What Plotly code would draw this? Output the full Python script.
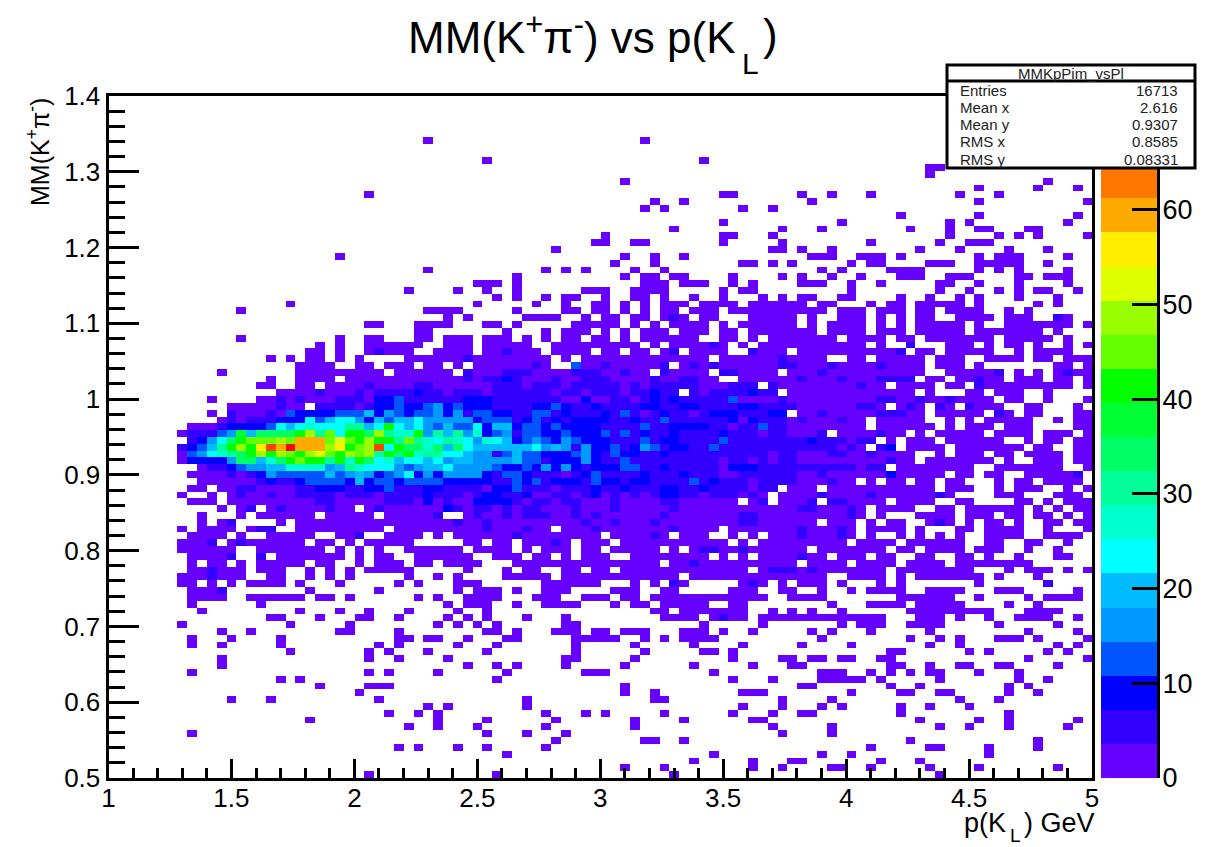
import plotly.graph_objects as go

# Histogram binning
x_min, x_max, n_x = 1.0, 5.0, 100
y_min, y_max, n_y = 0.5, 1.4, 100

# Colour bands of the palette (one per 3.6 counts) and a representative count for each
band_colors = ["#6600ff", "#3300ff", "#0000ff", "#0055ff", "#0099ff", "#00bbff", "#00ffff", "#00ffcc", "#00ff99", "#00ff66",
               "#00ff33", "#00ff00", "#66ff00", "#99ff00", "#ddff00", "#ffee00", "#ffaa00", "#ff7700", "#ff4400", "#ff0000"]
band_symbols = "123456789ABCDEFGHIJK"
band_counts = [1.8, 5.4, 9, 12.6, 16.2, 19.8, 23.4, 27, 30.6, 34.2, 37.8, 41.4, 45, 48.6, 52.2, 55.8, 59.4, 63, 66.6, 70.2]
z_max = 72

# Sparse top of the histogram: row -> occupied columns
upper_cells = {
    93: [32, 54], 90: [38, 60], 89: [83, 84], 88: [83], 87: [52, 95], 86: [88, 94, 98],
    85: [26, 62, 63, 70, 73, 77, 86, 90], 84: [55, 58, 71, 88, 99], 83: [54, 56, 64, 67], 82: [80, 88, 98],
    81: [62, 74, 85, 87, 97], 80: [57, 68, 72, 81, 85, 88, 89, 93, 94], 79: [50, 62, 63, 67, 85, 90, 92, 94, 99],
    78: [49, 50, 53, 54, 62, 68, 77, 84, 87, 88, 89], 77: [45, 67, 68, 70, 73, 82, 86, 91, 95],
    76: [23, 52, 55, 58, 71, 72, 73, 76, 77, 78, 80, 88, 90, 91, 92, 97],
    75: [51, 55, 64, 65, 67, 69, 75, 77, 78, 83, 84, 85, 88, 89, 90, 91, 92, 95],
    74: [32, 44, 46, 48, 53, 56, 72, 74, 79, 80, 81, 82, 88, 90, 92, 97],
    73: [41, 52, 54, 55, 57, 58, 63, 68, 70, 73, 76, 80, 81, 82, 85, 86, 87, 92, 93, 95, 96, 97],
    72: [37, 38, 39, 41, 54, 55, 56, 58, 59, 60, 63, 65, 70, 71, 72, 75, 78, 84, 85, 88, 92, 97],
    71: [30, 35, 38, 41, 48, 49, 50, 53, 54, 55, 56, 62, 64, 65, 75, 84, 87, 90, 92, 94, 95, 98],
    70: [39, 41, 44, 46, 47, 50, 53, 54, 56, 59, 62, 66, 68, 70, 71, 74, 75, 80, 83, 86, 88, 92, 96],
    69: [18, 37, 43, 46, 49], 68: [13, 32, 33, 34, 35, 41, 46, 47, 49], 67: [34, 36, 42, 43, 44, 45, 48],
    66: [26, 27, 31, 32, 33, 34, 38, 39, 41, 47, 48, 49], 65: [31, 32, 40, 44, 46, 47, 48],
    64: [13, 23, 26, 27, 31, 32, 34, 35, 36, 38, 39, 40, 42, 44, 46, 47, 49],
}

# Sparse bottom of the histogram
lower_cells = {
    31: [8, 10, 11, 13, 15, 16, 17, 18, 19, 21, 22, 25, 27, 28, 29, 31, 32, 34, 35, 36, 37, 41, 42, 43, 44, 45, 46, 47, 48, 49,
         50, 51, 52, 53, 54, 55, 57, 58, 59, 60, 61, 62, 63, 64, 65, 66, 67, 68, 69, 71, 72, 73, 74, 76, 77, 78, 79, 81, 82, 83, 84, 86, 87, 88, 89, 90, 91, 92, 93],
    30: [8, 9, 10, 11, 12, 13, 15, 16, 17, 20, 22, 24, 26, 27, 28, 29, 30, 36, 40, 42, 43, 46, 47, 49,
         50, 52, 53, 54, 55, 56, 57, 58, 59, 60, 61, 62, 63, 64, 66, 67, 68, 69, 70, 71, 72, 73, 74, 75, 76, 77, 78, 80, 81, 82, 83, 84, 85, 86, 87, 91, 93, 94, 95, 97, 99],
    29: [7, 8, 9, 10, 11, 12, 13, 16, 17, 20, 22, 24, 30, 33, 35, 40, 41, 42, 43, 44, 46, 47, 48, 49,
         50, 51, 52, 53, 54, 55, 56, 57, 59, 60, 61, 62, 63, 64, 65, 66, 67, 68, 69, 70, 71, 72, 75, 76, 77, 78, 80, 82, 83, 84, 85, 86, 87, 88, 90, 94],
    28: [7, 8, 10, 12, 14, 15, 16, 17, 19, 23, 29, 31, 35, 36, 37, 44, 45, 46, 47, 48, 49, 53, 55, 57, 58, 64, 65, 66, 68, 70, 71, 72, 74, 78, 80, 88, 95],
    27: [8, 9, 10, 11, 20, 27, 35, 37, 38, 39, 41, 44, 45, 46, 51, 52, 53, 56, 57, 63, 64, 65, 68, 69, 72, 75, 77, 78, 79, 80, 83, 84, 85, 86, 90, 91, 92, 98],
    26: [8, 9, 10, 11, 14, 15, 16, 17, 18, 19, 21, 22, 24, 31, 33, 36, 37, 38, 39, 43, 44, 45, 48, 49,
         50, 52, 53, 55, 56, 57, 58, 59, 60, 61, 62, 63, 64, 65, 66, 69, 70, 71, 72, 80, 81, 82, 83, 84, 85, 88, 93, 95, 96, 97, 98],
    25: [8, 15, 34, 36, 37, 38, 41, 44, 45, 46, 47, 51, 53, 54, 56, 57, 58, 59, 60, 63, 64, 73, 77, 78, 79, 80, 82, 83, 84, 85, 86, 91, 94],
    24: [9, 19, 23, 26, 30, 35, 38, 55, 56, 58, 59, 60, 61, 62, 63, 64, 67, 69, 71, 74, 81, 82, 83, 84, 85, 86, 87, 88, 89, 93, 94, 95, 96],
    23: [16, 17, 21, 25, 26, 29, 34, 36, 38, 42, 46, 56, 57, 58, 59, 61, 62, 63, 64, 66, 67, 68, 69, 70, 71, 72, 73, 74, 75, 76, 77, 78, 82, 83, 84, 86, 89, 92, 93, 94, 95, 98],
    22: [7, 18, 24, 33, 35, 37, 39, 46, 47, 60, 66, 74, 76, 77, 78, 81, 82, 83, 84, 90, 96],
    21: [11, 14, 23, 24, 29, 38, 39, 41, 45, 46, 47, 49, 50, 52, 53, 54, 58, 59, 60, 62, 65, 71, 73, 77, 83, 93, 98],
    20: [8, 12, 17, 29, 30, 32, 33, 36, 40, 41, 47, 48, 49, 50, 51, 54, 56, 58, 59, 60, 61, 72, 81, 84, 86, 90, 91, 92, 94, 99],
    19: [8, 11, 17, 27, 29, 35, 39, 47, 53, 59, 64, 70, 75, 83, 86, 96, 98],
    18: [18, 26, 28, 32, 38, 47, 54, 60, 61, 63, 79, 80, 87, 89, 95, 97],
    17: [11, 26, 29, 34, 46, 47, 53, 63, 68, 69, 71, 72, 74, 75, 78, 79, 93, 99],
    16: [11, 36, 39, 41, 46, 52, 59, 65, 69, 70, 79, 80, 83, 86, 87, 90, 91, 96],
    15: [8, 26, 28, 33, 40, 48, 49, 50, 61, 72, 73, 74, 77, 79, 81, 83, 84, 88, 92],
    14: [17, 19, 39, 63, 67, 72, 73, 74, 75, 76, 78, 84, 92, 95],
    13: [21, 26, 27, 28, 52, 70, 71, 79, 82, 91, 93],
    12: [25, 52, 55, 64, 65, 66, 75, 80, 81, 84, 85, 91, 94],
    11: [12, 16, 27, 42, 55, 56, 68, 73, 86, 90],
    10: [32, 34, 42, 64, 68, 72, 74, 80, 83, 87],
    9: [28, 31, 33, 44, 48, 50, 56, 63, 67, 70, 71, 80, 91],
    8: [20, 33, 38, 45, 53, 58, 65, 66, 82, 88, 91, 98],
    7: [30, 33, 37, 44, 53, 67, 73, 84, 87, 91, 97],
    6: [8, 38, 42, 46, 68, 73],
    5: [45, 54, 55, 58, 81, 94],
    4: [29, 31, 35, 38, 44, 77, 83, 84, 89, 94],
    3: [40, 61, 72, 75, 89],
    2: [59, 65, 69, 70, 78, 82],
    1: [52, 56, 65, 68, 73, 74, 77, 83, 88, 96],
    0: [26, 39, 57, 84],
}

# A few cells in the sparse regions that fall in the second colour band: (row, column)
second_band_cells = [(30, 10), (29, 10), (27, 11), (23, 62), (31, 59), (30, 67), (30, 68), (30, 69), (30, 71), (28, 57), (28, 65), (28, 95)]

# Dense part, columns 0-49, groups of ten columns, by row
left_rows = {
    63: ".......... .......... .1.1..1111 11..111.11 111..11111",
    62: ".......... .......... 11.1..1211 1..1111.11 2111.1111.",
    61: ".......... ......1.1. 11.1.1.... 1111112111 11111.1.11",
    60: ".......... .........1 111..11.11 1.11.1.111 111 21..411",
    59: ".......... .1.......1 11111111.1 11111.2111 2221111222",
    58: ".......... ......1..1 111.111111 1111112122 3211121122",
    57: ".......... .....11..1 1.11112111 1221111112 2212221222",
    56: ".......... .......111 1211121222 2322122212 2222212212",
    55: ".......... 1....11212 1112221334 2222223332 2222221131",
    54: ".......... ..11111211 .222212334 3345343332 2223343223",
    53: ".......... 1.21112143 3334446354 3445352443 3224423222",
    52: ".......... .121222333 7467753646 6755555344 4234232333",
    51: "........11 1233334767 87779967C7 6754644736 6344343333",
    50: ".......122 245B6AAAAC E9D7CCAE98 8C59695834 5244334333",
    49: "........23 57ACDDDEDH HHDFDCECC9 D987987587 6345435433",
    48: ".......234 69CECGJHKH HHEGCDEJ7C AA8A6A7666 6667565253",
    47: ".......145 789ACECEDC EFDCEDE9CA C899776552 4644333453",
    46: ".......133 335AA68ACD CC9C8CA786 7767566555 5644233353",
    45: ".........1 2234556688 8856987775 4566755554 3343535323",
    44: "........11 1121235444 4464565345 7353555532 4432221234",
    43: ".........1 1111123223 4444363443 4444333332 2434233324",
    42: "........11 .112211112 2333223342 2233222213 3422212223",
    41: ".......1.. 1.12112112 2221222122 2232221233 2231122123",
    40: "........11 1.11111111 1221111122 2131211333 3212212211",
    39: ".......... .1.12.1211 11211.1211 1111321221 2122111211",
    38: ".........1 ...1.11111 1.11111.11 1112..1211 2122211212",
    37: ".........1 .12....1.1 1111111111 1111121121 1111111121",
    36: ".......1.1 111.122..1 11111111.1 1111111121 11211.1112",
    35: "........11 11.1..1111 1..112..11 11.1.11111 1211111111",
    34: ".......111 2.12111111 .11.1.1111 1.....11.1 1.11121.11",
    33: ".......111 111..11111 11.1.1.1.. 111111.111 1.1.111.11",
    32: "........11 112..2.111 1111.1.11. .111111..1 11.11.1.11",
}

# Dense part, columns 50-99, groups of ten columns, by row
right_rows = {
    69: "1.1.1.111. 1111.11111 1.11...1.1 1.11111.1. ....1.1...",
    68: "1.1.1.11.1 11.1111111 111.111.11 1.11.1111. .1.1......",
    67: "11.11.121. 11...11111 .1..111.1. 1.11..1111 .111..21..",
    66: "11.1.1.111 1.1.111111 .1.1111.1. 1.11111.1. .1111111.1",
    65: "1.1.111.11 1.11.11111 11.1111.11 1.11111.11 11111.1...",
    64: "1.1.111111 ..11.1.111 1111.1111. 11.1111111 .11111.1..",
    63: "1111.1.111 121.1.1111 1111111.1. .2...111.1 .11.1..1.1",
    62: "11.11.12.1 111..2111. 1111111111 2.11.11111 ..1.1111..",
    61: "1111111111 1.11111121 111..11.11 111.111..1 111.11.111",
    60: "2111112.12 1211111122 1112111121 111.111.1. ......11.1",
    59: "11211.2111 1.221111.1 1121111111 111..11111 2.1.1.1211",
    58: "2111121122 11..111111 2111211122 22.11.1121 1.111.11.1",
    57: "2212122222 111222.211 111111211. 1111.11.21 11111111.1",
    56: "22122322.2 12222322.1 1111111111 11.1...11. 111..1....",
    55: "1221232322 2224111121 1111111122 1121121111 .11..1...1",
    54: "2222332233 2222332222 111111221. 121.21.211 1..11...1.",
    53: "3242123221 233322233. 1121111122 211.11111. 21.11...11",
    52: "3223224222 2223132221 2111211.11 111..1.1.1 1111..1.11",
    51: "2222422333 3221224221 1111111.11 1111.1.111 .111....11",
    50: "4242322322 2232221221 112.111121 1.1.11111. 1111.111.1",
    49: "3222423322 2242222222 23222122.1 .111.11111 1..1.11.11",
    48: "3423542332 2422222222 2222121.23 .1111.1111 111.11..11",
    47: "2433223222 2222222122 1112211211 11..1.111. 11.1111.11",
    46: "2242222222 2212212122 1111111112 11.1111111 .1..111.11",
    45: "3344223222 2213332222 222222122. 11111111.. 1111111..1",
    44: "2222322232 2211222222 1121111113 11111.11.1 1..111112.",
    43: "3323322224 2322212222 111211.1.1 1.11.11... 1.11.1111.",
    42: "2232223322 32222122.1 11.1111111 1111.111.. 1.111..1.1",
    41: "1212123322 1222121.11 1121111211 111121.... 111...111.",
    40: "1211112211 1111.12.11 12.221111. 1111..11.. ..11.1.111",
    39: "1211111211 1111111111 2211121.11 11..11.111 111.1.1.11",
    38: "1111112111 1111221111 1111121.1. ..1111.111 .11.11.1.1",
    37: "1211121111 1111221111 11.111.1.1 1..121.1.1 1.1..11.11",
    36: "1111111211 11.1111111 211121.111 1.1...11.1 111..1...1",
    35: ".111121.11 1..1.1.111 211121.1.. 1.1.1.1..1 111..1111.",
    34: "1.11111111 111.1.1111 11111.1111 .111111..1 1..11..1..",
    33: ".11111.1.1 2211211111 1.1111111. 11.1111.11 1..1..1...",
    32: "1..1111111 1.1.1.1111 211.111.11 ..11..11.1 ..1...11..",
}

# Statistics box
stats_title = "MMKpPim_vsPl"
stats_names = ["Entries", "Mean x", "Mean y", "RMS x", "RMS y"]
stats_values = ["16713", "2.616", "0.9307", "0.8585", "0.08331"]

# Assemble the count grid
z = [[None] * n_x for _ in range(n_y)]
for source in (upper_cells, lower_cells):
    for r, cols in source.items():
        for c in cols:
            z[r][c] = band_counts[0]
for r, c in second_band_cells:
    z[r][c] = band_counts[1]
for r, text in left_rows.items():
    cells = text.replace(" ", "")
    for c, ch in enumerate(cells[:50]):
        if ch != ".":
            z[r][c] = band_counts[band_symbols.index(ch)]
for r, text in right_rows.items():
    cells = text.replace(" ", "")
    for c, ch in enumerate(cells[:50]):
        if ch != ".":
            z[r][50 + c] = band_counts[band_symbols.index(ch)]

dx = (x_max - x_min) / n_x
dy = (y_max - y_min) / n_y

# Stepped colour scale
n_bands = len(band_colors)
colorscale = []
for i, col in enumerate(band_colors):
    colorscale.append([i / n_bands, col])
    colorscale.append([(i + 1) / n_bands, col])

W, H = 1219, 847
L, R, T, B = 108.5, 1092, 96, 778
CL, CR = 1101, 1157
font_family = "Liberation Sans"


def px(v):
    return v / W


def py(v):
    return 1 - v / H


fig = go.Figure()
fig.add_trace(go.Heatmap(z=z, x0=x_min + dx / 2, dx=dx, y0=y_min + dy / 2, dy=dy, zmin=0, zmax=z_max,
                         colorscale=colorscale, showscale=False, hoverongaps=False))
band_edges = [i * z_max / n_bands for i in range(n_bands + 1)]
fig.add_trace(go.Heatmap(z=[[c] for c in band_counts], x=[0, 1], y=band_edges, zmin=0, zmax=z_max,
                         colorscale=colorscale, showscale=False, xaxis="x2", yaxis="y2"))

fig.update_layout(
    width=W, height=H, margin=dict(l=0, r=0, t=0, b=0), autosize=False,
    paper_bgcolor="white", plot_bgcolor="white", showlegend=False,
    font=dict(family=font_family, color="black", size=26),
    xaxis=dict(domain=[px(L), px(R)], range=[x_min, x_max], tick0=1, dtick=0.5, ticks="inside", ticklen=19, tickwidth=3,
               tickcolor="black", showline=True, mirror=True, linewidth=3, linecolor="black", showgrid=False, zeroline=False,
               minor=dict(ticks="inside", ticklen=10, tickwidth=3, tickcolor="black", dtick=0.1, tick0=1, showgrid=False),
               tickfont=dict(size=26), ticklabelstandoff=-5, automargin=False),
    yaxis=dict(domain=[py(B), py(T)], range=[y_min, y_max], tick0=0.5, dtick=0.1, ticks="inside", ticklen=30, tickwidth=3,
               tickcolor="black", showline=True, mirror=True, linewidth=3, linecolor="black", showgrid=False, zeroline=False,
               minor=dict(ticks="inside", ticklen=16, tickwidth=3, tickcolor="black", dtick=0.02, tick0=0.5, showgrid=False),
               tickfont=dict(size=26), automargin=False),
    xaxis2=dict(domain=[px(CL), px(CR)], range=[0, 1], visible=False, anchor="y2"),
    yaxis2=dict(domain=[py(B), py(T)], range=[0, z_max], anchor="x2", side="right", tick0=0, dtick=10, ticks="inside", ticklen=25,
                tickwidth=3, tickcolor="black", showline=True, linewidth=3, linecolor="black", showgrid=False, zeroline=False,
                tickfont=dict(size=27), ticklabelstandoff=-3, automargin=False),
)


def label(x, y, text, size, anchor="center", color="black", angle=0):
    return dict(x=px(x), y=py(y), xref="paper", yref="paper", showarrow=False, xanchor=anchor, yanchor="middle",
                text=text, textangle=angle, font=dict(size=size, color=color))


annotations = [
    label(738, 35, "MM(K<sup>+</sup>π<sup>-</sup>) vs p(K", 44, "right"),
    label(750, 64, "L", 30),
    label(770, 35, ")", 44),
    label(38, 152, "MM(K<sup>+</sup>π<sup>-</sup>)", 25, angle=-90),
    label(1008, 823, "p(K", 27, "right"),
    label(1015, 835, "L", 19),
    label(1022, 823, ") GeV", 27, "left"),
    label(1071, 73, stats_title, 15, color="#222222"),
]
stat_y = [90, 108, 125, 142, 160]
for name, value, yy in zip(stats_names, stats_values, stat_y):
    annotations.append(label(958, yy, name, 15, "left", "#222222"))
    annotations.append(label(1180, yy, value, 15, "right", "#222222"))
fig.update_layout(annotations=annotations)

fig.update_layout(shapes=[
    dict(type="rect", xref="paper", yref="paper", x0=px(947), x1=px(1195), y0=py(168), y1=py(65), fillcolor="white",
         line=dict(color="black", width=3), layer="above"),
    dict(type="line", xref="paper", yref="paper", x0=px(947), x1=px(1195), y0=py(81), y1=py(81),
         line=dict(color="black", width=3), layer="above"),
])

fig.write_html("out.html", config=dict(displayModeBar=False),
               post_script="document.body.style.margin='0';document.body.style.overflow='hidden';")
